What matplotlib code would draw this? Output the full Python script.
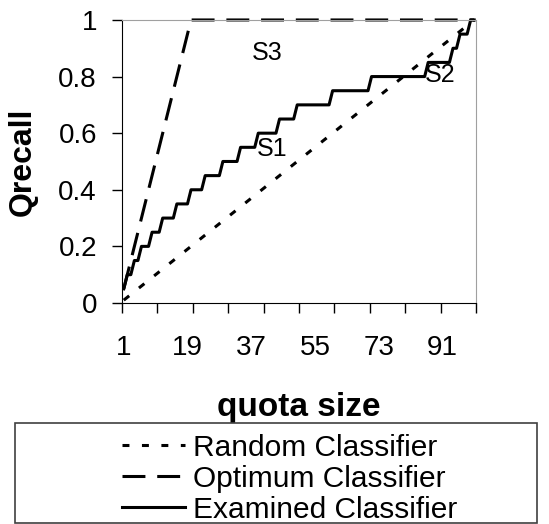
import numpy as np
import matplotlib
matplotlib.use("Agg")
import matplotlib.pyplot as plt
from matplotlib.patches import Rectangle

plt.rcParams['font.family'] = ['Liberation Sans', 'DejaVu Sans']
plt.rcParams['lines.scale_dashes'] = False

# quota sizes (categories on the x axis)
quota_size = np.arange(1, 101)
x_tick_labels = [1, 19, 37, 55, 73, 91]

random_clf = [
    0.01, 0.02, 0.03, 0.04, 0.05, 0.06, 0.07, 0.08, 0.09, 0.10,
    0.11, 0.12, 0.13, 0.14, 0.15, 0.16, 0.17, 0.18, 0.19, 0.20,
    0.21, 0.22, 0.23, 0.24, 0.25, 0.26, 0.27, 0.28, 0.29, 0.30,
    0.31, 0.32, 0.33, 0.34, 0.35, 0.36, 0.37, 0.38, 0.39, 0.40,
    0.41, 0.42, 0.43, 0.44, 0.45, 0.46, 0.47, 0.48, 0.49, 0.50,
    0.51, 0.52, 0.53, 0.54, 0.55, 0.56, 0.57, 0.58, 0.59, 0.60,
    0.61, 0.62, 0.63, 0.64, 0.65, 0.66, 0.67, 0.68, 0.69, 0.70,
    0.71, 0.72, 0.73, 0.74, 0.75, 0.76, 0.77, 0.78, 0.79, 0.80,
    0.81, 0.82, 0.83, 0.84, 0.85, 0.86, 0.87, 0.88, 0.89, 0.90,
    0.91, 0.92, 0.93, 0.94, 0.95, 0.96, 0.97, 0.98, 0.99, 1.00,
]

optimum_clf = [
    0.05, 0.10, 0.15, 0.20, 0.25, 0.30, 0.35, 0.40, 0.45, 0.50,
    0.55, 0.60, 0.65, 0.70, 0.75, 0.80, 0.85, 0.90, 0.95, 1.00,
    1.00, 1.00, 1.00, 1.00, 1.00, 1.00, 1.00, 1.00, 1.00, 1.00,
    1.00, 1.00, 1.00, 1.00, 1.00, 1.00, 1.00, 1.00, 1.00, 1.00,
    1.00, 1.00, 1.00, 1.00, 1.00, 1.00, 1.00, 1.00, 1.00, 1.00,
    1.00, 1.00, 1.00, 1.00, 1.00, 1.00, 1.00, 1.00, 1.00, 1.00,
    1.00, 1.00, 1.00, 1.00, 1.00, 1.00, 1.00, 1.00, 1.00, 1.00,
    1.00, 1.00, 1.00, 1.00, 1.00, 1.00, 1.00, 1.00, 1.00, 1.00,
    1.00, 1.00, 1.00, 1.00, 1.00, 1.00, 1.00, 1.00, 1.00, 1.00,
    1.00, 1.00, 1.00, 1.00, 1.00, 1.00, 1.00, 1.00, 1.00, 1.00,
]

examined_clf = [
    0.05, 0.10, 0.10, 0.15, 0.15, 0.20, 0.20, 0.20, 0.25, 0.25,
    0.25, 0.30, 0.30, 0.30, 0.30, 0.35, 0.35, 0.35, 0.35, 0.40,
    0.40, 0.40, 0.40, 0.45, 0.45, 0.45, 0.45, 0.45, 0.50, 0.50,
    0.50, 0.50, 0.50, 0.55, 0.55, 0.55, 0.55, 0.55, 0.60, 0.60,
    0.60, 0.60, 0.60, 0.60, 0.65, 0.65, 0.65, 0.65, 0.65, 0.70,
    0.70, 0.70, 0.70, 0.70, 0.70, 0.70, 0.70, 0.70, 0.70, 0.75,
    0.75, 0.75, 0.75, 0.75, 0.75, 0.75, 0.75, 0.75, 0.75, 0.75,
    0.80, 0.80, 0.80, 0.80, 0.80, 0.80, 0.80, 0.80, 0.80, 0.80,
    0.80, 0.80, 0.80, 0.80, 0.80, 0.80, 0.85, 0.85, 0.85, 0.85,
    0.85, 0.85, 0.85, 0.90, 0.90, 0.95, 0.95, 0.95, 1.00, 1.00,
]

# region labels: (text, quota size, recall)
region_labels = [("S1", 42.9, 0.545), ("S2", 90.3, 0.806), ("S3", 41.4, 0.883)]

fig = plt.figure(figsize=(5.49, 5.24), dpi=100)
ax = fig.add_axes([0.2222, 0.4218, 0.6448, 0.5401])

ax.plot(quota_size, random_clf, color='black', lw=2.2, dashes=(5, 9),
        label='Random Classifier', clip_on=False)
ax.plot(quota_size, optimum_clf, color='black', lw=2.2, dashes=(16.5, 8.5),
        label='Optimum Classifier', clip_on=False)
ax.plot(quota_size, examined_clf, color='black', lw=2.2,
        label='Examined Classifier', clip_on=False)

for txt, xv, yv in region_labels:
    ax.text(xv, yv, txt, fontsize=18, ha='center', va='center')

ax.set_xlim(0.5, 100.5)
ax.set_ylim(0, 1)

# tick marks between categories, labels on categories
ax.set_xticks(np.arange(0.5, 101, 10))
ax.set_xticklabels([])
ax.set_xticks(x_tick_labels, minor=True)
ax.set_xticklabels([str(v) for v in x_tick_labels], minor=True)
ax.tick_params(axis='x', which='major', direction='out', length=7, width=1)
ax.tick_params(axis='x', which='minor', length=0, pad=23, labelsize=20)

ax.set_yticks([0, 0.2, 0.4, 0.6, 0.8, 1.0])
ax.set_yticklabels(['0', '0.2', '0.4', '0.6', '0.8', '1'])
ax.tick_params(axis='y', direction='out', length=7, width=1, pad=11, labelsize=20)

for side in ['top', 'right']:
    ax.spines[side].set_color('#a0a0a0')
for side in ['left', 'bottom']:
    ax.spines[side].set_color('black')

ax.set_ylabel('Qrecall', fontsize=23, fontweight='bold')
ax.yaxis.set_label_coords(-0.28, 0.5)
ax.yaxis.label.set_va('center')
ax.set_xlabel('quota size', fontsize=24, fontweight='bold')
ax.xaxis.set_label_coords(0.5, -0.371)
ax.xaxis.label.set_va('center')

# legend box across the bottom
fig.patches.append(Rectangle((15 / 549, 0.002), 522 / 549, 100 / 524,
                             transform=fig.transFigure, fill=False,
                             edgecolor='#404040', lw=1.2))
fig.legend(loc='upper left', bbox_to_anchor=(0.222, 0.172), frameon=False,
           fontsize=21.5, handlelength=2.1, handletextpad=0.28,
           labelspacing=0.1, borderpad=0, borderaxespad=0)

fig.savefig('out.png', dpi=100)
